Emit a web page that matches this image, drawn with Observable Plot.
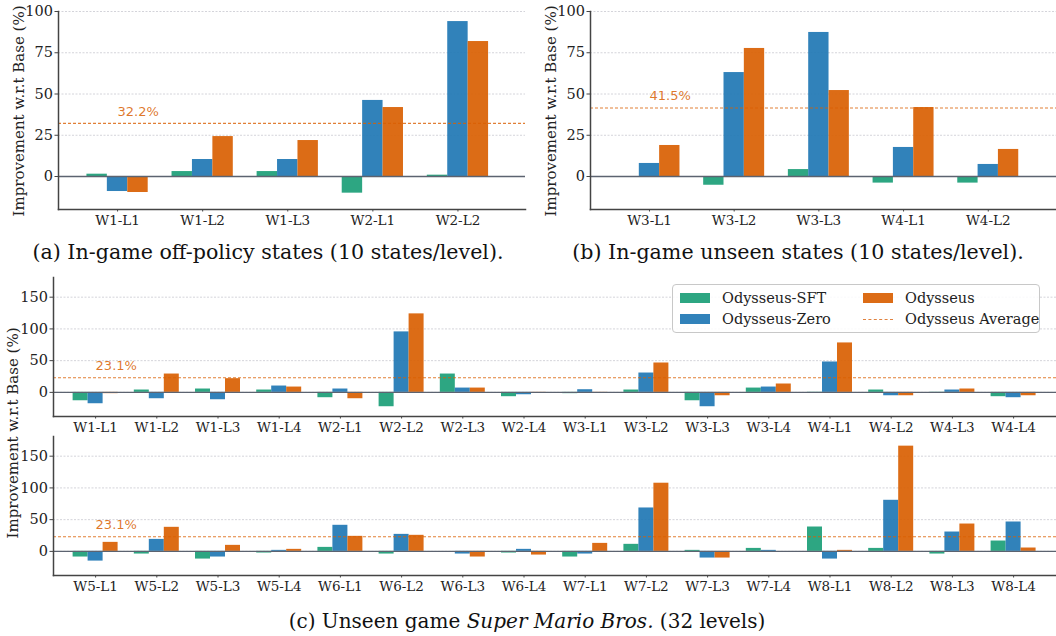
<!DOCTYPE html>
<html><head><meta charset="utf-8">
<script src="https://cdn.jsdelivr.net/npm/d3@7"></script>
<script src="https://cdn.jsdelivr.net/npm/@observablehq/plot@0.6"></script>
<style>
body{margin:0;background:#fff;}
#root{position:relative;width:1056px;height:636px;overflow:hidden;background:#fff;font-family:"DejaVu Serif",serif;color:#222;}
#root svg{position:absolute;overflow:visible;}
.cap{position:absolute;transform:translate(-50%,-50%);white-space:nowrap;font-family:"DejaVu Serif",serif;font-size:20.6px;color:#111;}
.ylab{position:absolute;transform:translate(-50%,-50%) rotate(-90deg);white-space:nowrap;font-family:"DejaVu Serif",serif;font-size:15px;color:#222;}
.legend{position:absolute;left:672px;top:284px;width:366px;height:47px;border:1px solid #c8c8c8;border-radius:4px;background:rgba(255,255,255,0.85);font-family:"DejaVu Serif",serif;font-size:14.5px;color:#222;}
.legend .sw{position:absolute;width:30px;height:10px;}
.legend .tx{position:absolute;transform:translateY(-50%);white-space:nowrap;}
.legend .dash{position:absolute;width:30px;height:0;border-top:1px dashed #e0823f;}
</style></head><body><div id="root"></div>
<script>
// ---------- data ----------
const seriesNames = ["Odysseus-SFT", "Odysseus-Zero", "Odysseus"];
const avgName = "Odysseus Average";
const colors = ["#1b9e77", "#1f77b4", "#d95f02"];

const levelsA = ["W1-L1", "W1-L2", "W1-L3", "W2-L1", "W2-L2"];
const sftA  = [1.4, 3.0, 3.0, -10.1, 0.8];
const zeroA = [-9.1, 10.3, 10.3, 46.1, 93.9];
const odyA  = [-9.7, 24.2, 21.8, 41.8, 81.8];
const avgA = 32.2;

const levelsB = ["W3-L1", "W3-L2", "W3-L3", "W4-L1", "W4-L2"];
const sftB  = [-0.3, -5.3, 4.2, -4.0, -4.0];
const zeroB = [7.9, 63.0, 87.3, 17.6, 7.3];
const odyB  = [18.8, 77.6, 52.1, 41.8, 16.4];
const avgB = 41.5;

const levelsC1 = ["W1-L1","W1-L2","W1-L3","W1-L4","W2-L1","W2-L2","W2-L3","W2-L4",
                  "W3-L1","W3-L2","W3-L3","W3-L4","W4-L1","W4-L2","W4-L3","W4-L4"];
const sftC1  = [-13.2, 3.7, 5.3, 3.7, -8.4, -22.6, 28.9, -6.8, -2.0, 3.7, -13.2, 6.8, 0.3, 3.7, 0.3, -6.8];
const zeroC1 = [-17.9, -10.0, -11.6, 10.0, 5.3, 95.3, 6.8, -3.7, 4.2, 30.5, -22.6, 8.4, 47.9, -5.3, 3.7, -8.4];
const odyC1  = [-2.0, 28.9, 21.6, 8.4, -10.0, 123.7, 6.8, -0.6, -0.6, 46.3, -5.3, 13.2, 77.9, -5.3, 5.3, -5.3];

const levelsC2 = ["W5-L1","W5-L2","W5-L3","W5-L4","W6-L1","W6-L2","W6-L3","W6-L4",
                  "W7-L1","W7-L2","W7-L3","W7-L4","W8-L1","W8-L2","W8-L3","W8-L4"];
const sftC2  = [-8.9, -4.2, -12.1, -2.6, 6.3, -4.2, 0.0, -2.6, -8.9, 11.1, 1.6, 4.7, 38.4, 4.7, -4.2, 16.3];
const zeroC2 = [-15.3, 18.9, -8.9, 1.6, 41.1, 26.8, -4.2, 3.2, -4.2, 68.4, -10.5, 1.6, -12.1, 80.5, 30.5, 46.3];
const odyC2  = [14.2, 37.9, 9.5, 3.2, 23.7, 25.3, -8.9, -5.8, 12.6, 107.4, -10.5, 0.0, 1.6, 165.8, 43.1, 5.3];
const avgC = 23.1;

const ticksAB = [0, 25, 50, 75, 100];
const ticksC = [0, 50, 100, 150];
const yLabel = "Improvement w.r.t Base (%)";

// ---------- drawing ----------
const root = document.getElementById("root");

function panel(cfg) {
  const {levels, vals, avg, left, top, width, height, mL, mR, mT, mB, yDomain, yTicks, padIn, padOut, align, fs} = cfg;
  const rows = levels.map((l, i) => ({level: l, v0: vals[0][i], v1: vals[1][i], v2: vals[2][i]}));
  const n = levels.length;
  const step = (width - mL - mR) / (n - padIn + 2 * padOut);
  const bw = step * (1 - padIn) / 3;
  const bars = [0, 1, 2].map(s => Plot.barY(rows, {
    x: "level", y: "v" + s, fill: colors[s], fillOpacity: 0.92,
    insetLeft: s * bw, insetRight: (2 - s) * bw
  }));
  const svg = Plot.plot({
    width, height, marginLeft: mL, marginRight: mR, marginTop: mT, marginBottom: mB,
    style: {fontFamily: "DejaVu Serif", fontSize: fs + "px", color: "#222", background: "transparent"},
    x: {type: "band", domain: levels, paddingInner: padIn, paddingOuter: padOut, align, round: false, label: null},
    y: {domain: yDomain, label: null},
    marks: [
      Plot.ruleY(yTicks, {stroke: "#c9c9d0", strokeWidth: 0.8, strokeDasharray: "2,1.5"}),
      ...bars,
      Plot.ruleY([0], {stroke: "#5c6370", strokeWidth: 1.3}),
      Plot.ruleY([avg], {stroke: colors[2], strokeOpacity: 0.8, strokeWidth: 1.1, strokeDasharray: "3,2"}),
      Plot.text([{level: levels[0], v: avg}], {
        x: "level", y: "v", text: d => d.v.toFixed(1) + "%", dy: -12, textAnchor: "start",
        fill: colors[2], fillOpacity: 0.85, fontFamily: "DejaVu Sans", fontSize: 13
      }),
      Plot.axisY(yTicks, {tickSize: 3.5, tickPadding: 2, stroke: "#444", fontSize: fs + 1, label: null}),
      Plot.axisX({tickSize: 2.5, tickPadding: 3, stroke: "#444", fontSize: fs, label: null}),
      Plot.frame({anchor: "left", stroke: "#444", strokeWidth: 1.5}),
      Plot.frame({anchor: "bottom", stroke: "#444", strokeWidth: 1.5})
    ]
  });
  svg.style.left = left + "px";
  svg.style.top = top + "px";
  root.appendChild(svg);
}

panel({levels: levelsA, vals: [sftA, zeroA, odyA], avg: avgA,
  left: 0, top: 0, width: 528, height: 232, mL: 58, mR: 3, mT: 11, mB: 23,
  yDomain: [-20, 100], yTicks: ticksAB, padIn: 0.28, padOut: 0.384, align: 0.435, fs: 13.5});
panel({levels: levelsB, vals: [sftB, zeroB, odyB], avg: avgB,
  left: 528, top: 0, width: 528, height: 232, mL: 62, mR: 0, mT: 11, mB: 23,
  yDomain: [-20, 100], yTicks: ticksAB, padIn: 0.28, padOut: 0.391, align: 0.43, fs: 13.5});
panel({levels: levelsC1, vals: [sftC1, zeroC1, odyC1], avg: avgC,
  left: 0, top: 262, width: 1056, height: 175, mL: 53, mR: 0, mT: 15, mB: 21,
  yDomain: [-38, 181], yTicks: ticksC, padIn: 0.265, padOut: 0.327, align: 0.49, fs: 13.5});
panel({levels: levelsC2, vals: [sftC2, zeroC2, odyC2], avg: avgC,
  left: 0, top: 421, width: 1056, height: 175, mL: 53, mR: 0, mT: 15, mB: 21,
  yDomain: [-38, 181], yTicks: ticksC, padIn: 0.265, padOut: 0.327, align: 0.49, fs: 13.5});

function addDiv(cls, html, x, y, size) {
  const d = document.createElement("div");
  d.className = cls; d.innerHTML = html;
  d.style.left = x + "px"; d.style.top = y + "px";
  if (size) d.style.fontSize = size + "px";
  root.appendChild(d); return d;
}
addDiv("ylab", yLabel, 19, 111);
addDiv("ylab", yLabel, 551, 111);
addDiv("ylab", yLabel, 12.5, 433);
addDiv("cap", "(a) In-game off-policy states (10 states/level).", 268, 252);
addDiv("cap", "(b) In-game unseen states (10 states/level).", 798, 252);
addDiv("cap", "(c) Unseen game <i>Super Mario Bros.</i> (32 levels)", 527, 621, 20);

// legend
const lg = document.createElement("div");
lg.className = "legend";
root.appendChild(lg);
const items = [
  {kind: "sw", color: colors[0], label: seriesNames[0], x: 7, y: 13},
  {kind: "sw", color: colors[1], label: seriesNames[1], x: 7, y: 34},
  {kind: "sw", color: colors[2], label: seriesNames[2], x: 190, y: 13},
  {kind: "dash", color: colors[2], label: avgName, x: 190, y: 34}
];
for (const it of items) {
  const s = document.createElement("div");
  s.className = it.kind;
  s.style.left = it.x + "px";
  if (it.kind === "sw") { s.style.top = (it.y - 5) + "px"; s.style.background = it.color; s.style.opacity = 0.92; }
  else { s.style.top = it.y + "px"; }
  lg.appendChild(s);
  const t = document.createElement("div");
  t.className = "tx"; t.textContent = it.label;
  t.style.left = (it.x + 42) + "px"; t.style.top = it.y + "px";
  lg.appendChild(t);
}
</script></body></html>
